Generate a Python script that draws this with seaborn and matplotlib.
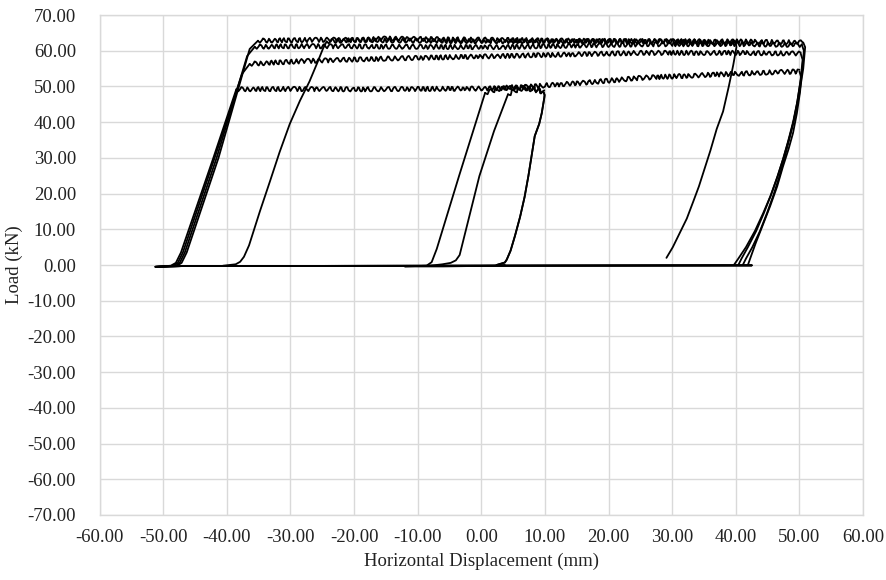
import matplotlib
matplotlib.use('Agg')
import matplotlib.pyplot as plt
from matplotlib.ticker import FormatStrFormatter
import seaborn as sns

# --- small cycles near zero displacement ---
s1_load_x = [-12.0, -8.6, -7.8, -7.0, -3.5, 0.6]
s1_load_y = [-0.4, -0.2, 0.8, 4.5, 24.9, 48.2]
s1_plat_x = [0.6, 2.5, 4.5, 6.5, 8.5, 9.6]
s1_plat_y = [48.2, 49.2, 49.8, 49.6, 49.0, 48.6]
s2_load_x = [-8.5, -6.1, -4.8, -4.0, -3.4, -0.3, 2.0, 4.2]
s2_load_y = [-0.3, 0.2, 0.6, 1.3, 2.8, 24.9, 37.5, 47.8]
s2_plat_x = [4.2, 6.0, 8.0, 9.8]
s2_plat_y = [47.8, 49.3, 49.5, 48.4]
s_unload_x = [9.8, 9.95, 9.9, 9.5, 9.1, 8.4, 7.9, 7.4, 6.8, 6.1, 5.3, 4.6, 4.0, 3.7, 2.4]
s_unload_y = [48.4, 47.6, 46.8, 42.5, 39.5, 36.1, 30.5, 24.9, 19.0, 13.5, 8.2, 4.0, 1.5, 0.7, 0.0]
s_zero_x = [3.7, 2.0, -6.0, -12.0]
s_zero_y = [0.0, -0.2, -0.4, -0.4]

# --- large cycles (+/-50 mm) ---
load_a_x = [-51.0, -48.8, -48.0, -47.2, -42.2, -38.5]
load_a_y = [-0.5, -0.2, 0.6, 3.5, 29.5, 49.2]
plat_a_x = [-38.5, -30.0, -20.0, -10.0, 0.0, 5.0, 10.0, 16.0, 25.0, 35.0, 45.0, 50.0]
plat_a_y = [49.2, 49.3, 49.2, 49.3, 49.4, 49.6, 50.3, 51.0, 52.4, 53.2, 53.9, 54.2]
unload_a_x = [50.0, 50.3, 50.1, 49.6, 49.0, 48.3, 47.4, 46.5, 45.4, 44.2, 43.1, 42.3, 41.9]
unload_a_y = [54.2, 52.5, 48.5, 42.5, 37.0, 32.5, 27.5, 22.0, 16.5, 11.0, 6.0, 2.0, 0.0]

load_b_x = [-50.6, -48.4, -47.7, -46.9, -42.0, -37.6, -36.4]
load_b_y = [-0.5, -0.2, 0.6, 3.5, 29.5, 53.5, 56.3]
plat_b_x = [-36.4, -28.0, -15.0, 3.0, 15.0, 25.0, 40.0, 50.2]
plat_b_y = [56.3, 57.1, 57.8, 58.5, 59.0, 59.4, 59.4, 59.2]
unload_b_x = [50.2, 50.5, 50.2, 49.6, 49.0, 48.3, 47.6, 46.8, 45.9, 44.9, 43.8, 42.6, 41.6, 41.1]
unload_b_y = [59.2, 57.5, 52.0, 45.0, 39.5, 34.5, 29.5, 24.5, 19.5, 14.5, 9.5, 5.0, 1.8, 0.0]

load_c_x = [-50.8, -48.0, -47.4, -46.6, -41.6, -36.8, -35.6]
load_c_y = [-0.5, -0.2, 0.6, 3.5, 30.0, 58.5, 61.1]
plat_c_x = [-35.6, -28.0, -10.0, 3.0, 25.0, 40.0, 50.4]
plat_c_y = [61.1, 61.3, 61.1, 61.0, 61.8, 61.9, 61.6]
unload_c_x = [50.4, 50.7, 50.4, 49.7, 49.0, 48.2, 47.4, 46.5, 45.5, 44.4, 43.2, 41.9, 40.9, 40.4]
unload_c_y = [61.6, 60.0, 54.0, 46.0, 40.0, 34.5, 29.5, 24.5, 19.5, 14.5, 9.5, 5.0, 1.8, 0.0]

load_d_x = [-51.2, -47.8, -47.1, -46.3, -41.3, -36.4, -35.1]
load_d_y = [-0.5, -0.2, 0.6, 3.5, 30.0, 60.5, 62.8]
plat_d_x = [-35.1, -24.0, -10.0, 3.0, 25.0, 40.0, 50.6]
plat_d_y = [62.8, 63.1, 62.8, 62.6, 62.7, 62.6, 62.3]
unload_d_x = [50.6, 50.9, 50.6, 49.9, 49.2, 48.4, 47.5, 46.6, 45.5, 44.3, 43.0, 41.6, 40.4, 39.7]
unload_d_y = [62.3, 61.0, 55.0, 47.0, 41.0, 35.5, 30.0, 25.0, 19.5, 14.5, 9.5, 5.0, 1.8, 0.0]

zero_x = [42.5, 0.0, -47.0, -51.2]
zero_y = [-0.1, -0.2, -0.3, -0.5]

# --- last cycle (-40 mm start, ends at 29 mm) ---
load_e_x = [-40.6, -38.6, -37.9, -37.3, -36.5, -34.8, -33.2, -31.7, -30.1, -28.5, -27.0, -25.8, -24.9, -24.3]
load_e_y = [-0.2, 0.2, 0.9, 2.3, 5.5, 15.0, 23.5, 31.6, 39.5, 46.0, 51.4, 56.5, 60.5, 62.6]
plat_e_x = [-24.3, -15.0, 0.0, 15.0, 30.0, 40.0]
plat_e_y = [62.6, 63.4, 63.1, 62.8, 62.6, 62.2]
unload_e_x = [40.0, 40.1, 39.6, 38.9, 38.0, 37.0, 36.0, 35.1, 34.2, 33.3, 32.3, 31.2, 30.1, 29.1]
unload_e_y = [62.2, 61.0, 56.0, 50.0, 43.0, 38.1, 32.0, 27.0, 22.0, 17.7, 13.0, 9.0, 5.0, 2.0]

x_ticks = list(range(-60, 61, 10))
y_ticks = list(range(-70, 71, 10))

sns.set_style('white')
plt.rcParams['font.family'] = ['Liberation Serif', 'DejaVu Serif']

fig, ax = plt.subplots(figsize=(8.87, 5.80), dpi=100)
fig.subplots_adjust(left=0.1122, right=0.973, top=0.9741, bottom=0.1121)


def draw(x, y, wavy=False):
    sns.lineplot(x=x, y=y, sort=False, estimator=None, color='black',
                 lw=1.3, ax=ax)
    if wavy:
        # serrated look of the sliding plateaus
        ax.lines[-1].set_sketch_params(2.2, 6, 2)


# small cycles
draw(s1_load_x, s1_load_y)
draw(s1_plat_x, s1_plat_y, wavy=True)
draw(s_unload_x, s_unload_y)
draw(s_zero_x, s_zero_y)
draw(s2_load_x, s2_load_y)
draw(s2_plat_x, s2_plat_y, wavy=True)
draw(s_unload_x, s_unload_y)

# large cycles
for lx, ly, px, py, ux, uy in [
        (load_a_x, load_a_y, plat_a_x, plat_a_y, unload_a_x, unload_a_y),
        (load_b_x, load_b_y, plat_b_x, plat_b_y, unload_b_x, unload_b_y),
        (load_c_x, load_c_y, plat_c_x, plat_c_y, unload_c_x, unload_c_y),
        (load_d_x, load_d_y, plat_d_x, plat_d_y, unload_d_x, unload_d_y)]:
    draw(lx, ly)
    draw(px, py, wavy=True)
    draw(ux, uy)
    draw(zero_x, zero_y)

draw(load_e_x, load_e_y)
draw(plat_e_x, plat_e_y, wavy=True)
draw(unload_e_x, unload_e_y)

ax.set_xlim(-60, 60)
ax.set_ylim(-70, 70)
ax.set_xticks(x_ticks)
ax.set_yticks(y_ticks)
ax.xaxis.set_major_formatter(FormatStrFormatter('%.2f'))
ax.yaxis.set_major_formatter(FormatStrFormatter('%.2f'))
ax.grid(True, color='#d9d9d9', lw=1)
ax.set_axisbelow(True)
for s in ax.spines.values():
    s.set_color('#d9d9d9')
    s.set_linewidth(1)
ax.tick_params(length=0, labelsize=13.5, colors='#222222')
ax.tick_params(axis='x', pad=10)
ax.tick_params(axis='y', pad=17)

ax.set_xlabel('Horizontal Displacement (mm)', fontsize=13.5, color='#222222')
ax.set_ylabel('Load (kN)', fontsize=13.5, color='#222222')
ax.xaxis.set_label_coords(0.5, -0.075)
ax.yaxis.set_label_coords(-0.1, 0.5)

plt.savefig('out.png', dpi=100)
